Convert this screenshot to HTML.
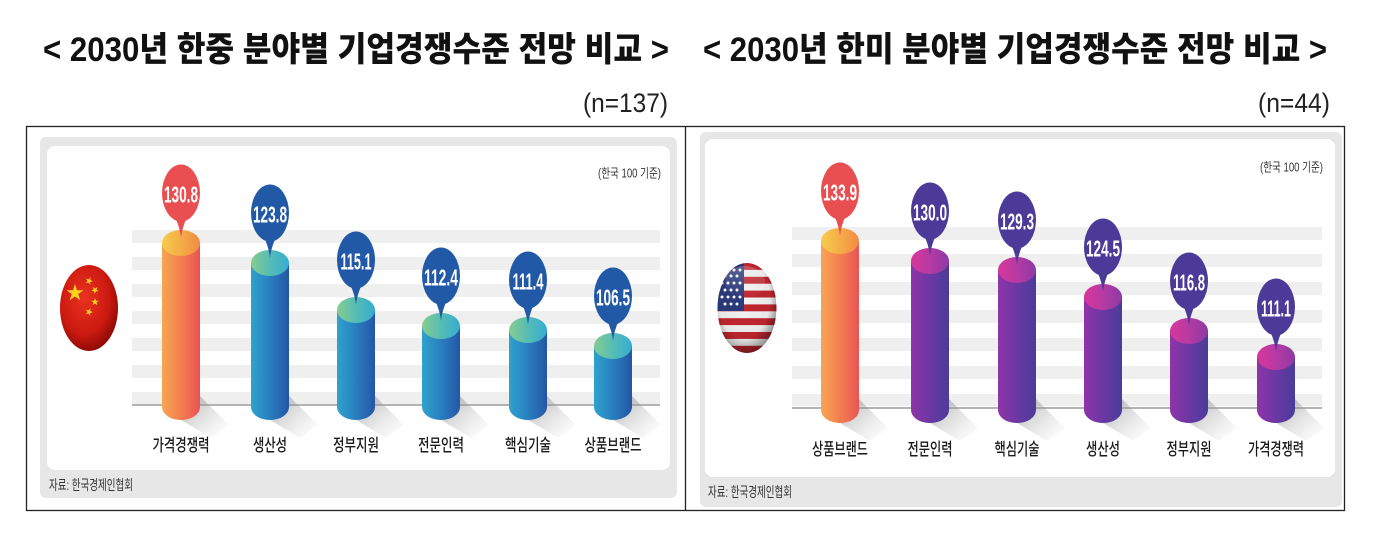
<!DOCTYPE html>
<html lang="ko">
<head>
<meta charset="utf-8">
<style>
  html,body{margin:0;padding:0;background:#fff;}
  body{width:1400px;height:540px;overflow:hidden;}
  svg{display:block;}
  .t{font-family:"Liberation Sans","Noto Sans CJK KR",sans-serif;}
</style>
</head>
<body>
<svg width="1400" height="540" viewBox="0 0 1400 540" xmlns="http://www.w3.org/2000/svg">
  <defs>
    <linearGradient id="gOB" x1="0" y1="0" x2="1" y2="0">
      <stop offset="0" stop-color="#f7a552"/><stop offset="0.55" stop-color="#f27b4f"/><stop offset="1" stop-color="#ea5355"/>
    </linearGradient>
    <linearGradient id="gOC" x1="0" y1="0" x2="1" y2="0">
      <stop offset="0" stop-color="#f6cd4c"/><stop offset="0.6" stop-color="#f4a646"/><stop offset="1" stop-color="#f08b45"/>
    </linearGradient>
    <linearGradient id="gBB" x1="0" y1="0" x2="1" y2="0">
      <stop offset="0" stop-color="#2ea3cc"/><stop offset="0.45" stop-color="#2a82c2"/><stop offset="1" stop-color="#2456a6"/>
    </linearGradient>
    <linearGradient id="gBC" x1="0" y1="0" x2="1" y2="0">
      <stop offset="0" stop-color="#88cc8f"/><stop offset="0.5" stop-color="#55bdb4"/><stop offset="1" stop-color="#36acd3"/>
    </linearGradient>
    <linearGradient id="gPB" x1="0" y1="0" x2="1" y2="0">
      <stop offset="0" stop-color="#8f34a8"/><stop offset="0.5" stop-color="#6a38a2"/><stop offset="1" stop-color="#4a3c9a"/>
    </linearGradient>
    <linearGradient id="gPC" x1="0" y1="0" x2="1" y2="0">
      <stop offset="0" stop-color="#d8379a"/><stop offset="0.5" stop-color="#b63aa3"/><stop offset="1" stop-color="#8d3aa5"/>
    </linearGradient>
    <linearGradient id="gSh" x1="0" y1="0" x2="1" y2="1">
      <stop offset="0" stop-color="#7a7a7a" stop-opacity="0.6"/><stop offset="1" stop-color="#cccccc" stop-opacity="0"/>
    </linearGradient>
    <radialGradient id="gCN" cx="0.42" cy="0.38" r="0.65">
      <stop offset="0" stop-color="#ea3220"/><stop offset="0.65" stop-color="#cc1a10"/><stop offset="1" stop-color="#8a0a05"/>
    </radialGradient>
    <radialGradient id="gShade" cx="0.45" cy="0.4" r="0.62">
      <stop offset="0" stop-color="#000" stop-opacity="0"/><stop offset="0.7" stop-color="#000" stop-opacity="0.05"/><stop offset="1" stop-color="#000" stop-opacity="0.45"/>
    </radialGradient>
    <linearGradient id="gGloss" x1="0" y1="0" x2="0" y2="1">
      <stop offset="0" stop-color="#fff" stop-opacity="0.55"/><stop offset="1" stop-color="#fff" stop-opacity="0"/>
    </linearGradient>
    <clipPath id="cUS"><ellipse cx="747" cy="308" rx="29.5" ry="45"/></clipPath>
    <path id="star" d="M0,-1 L0.225,-0.309 L0.951,-0.309 L0.363,0.118 L0.588,0.809 L0,0.382 L-0.588,0.809 L-0.363,0.118 L-0.951,-0.309 L-0.225,-0.309 Z"/>
  </defs>

  <!-- Titles -->
  <text class="t" x="43" y="61" font-size="34" font-weight="900" fill="#111" textLength="626" lengthAdjust="spacingAndGlyphs">&lt; 2030년 한중 분야별 기업경쟁수준 전망 비교 &gt;</text>
  <text class="t" x="703" y="61" font-size="34" font-weight="900" fill="#111" textLength="624" lengthAdjust="spacingAndGlyphs">&lt; 2030년 한미 분야별 기업경쟁수준 전망 비교 &gt;</text>
  <text class="t" x="583" y="112" font-size="27" fill="#222" textLength="85" lengthAdjust="spacingAndGlyphs">(n=137)</text>
  <text class="t" x="1258" y="112" font-size="27" fill="#222" textLength="72" lengthAdjust="spacingAndGlyphs">(n=44)</text>

  <!-- Outer box -->
  <rect x="26.5" y="126.5" width="1318" height="384" fill="#fff" stroke="#222" stroke-width="1.3"/>
  <line x1="685.5" y1="126.5" x2="685.5" y2="510.5" stroke="#222" stroke-width="1.3"/>

  <!-- Panels -->
  <rect x="40" y="137" width="637" height="361" rx="6" fill="#e7e7e7"/>
  <rect x="47" y="146" width="623" height="324" rx="8" fill="#fff"/>
  <rect x="700" y="132" width="642" height="375" rx="6" fill="#e7e7e7"/>
  <rect x="705" y="139" width="630" height="338" rx="8" fill="#fff"/>

  <!-- Left grid stripes -->
  <g fill="#efefef">
    <rect x="132" y="230" width="528" height="13"/>
    <rect x="132" y="257" width="528" height="13"/>
    <rect x="132" y="284" width="528" height="13"/>
    <rect x="132" y="311" width="528" height="13"/>
    <rect x="132" y="338" width="528" height="13"/>
    <rect x="132" y="365" width="528" height="13"/>
    <rect x="132" y="392" width="528" height="12"/>
  </g>
  <line x1="132" y1="405" x2="660" y2="405" stroke="#9a9a9a" stroke-width="1.6"/>

  <!-- Right grid stripes -->
  <g fill="#efefef">
    <rect x="792" y="227" width="530" height="13"/>
    <rect x="792" y="254" width="530" height="13"/>
    <rect x="792" y="282" width="530" height="13"/>
    <rect x="792" y="310" width="530" height="13"/>
    <rect x="792" y="338" width="530" height="13"/>
    <rect x="792" y="366" width="530" height="13"/>
    <rect x="792" y="394" width="530" height="12"/>
  </g>
  <line x1="792" y1="408" x2="1322" y2="408" stroke="#9a9a9a" stroke-width="1.6"/>

  <!-- Notes -->
  <text class="t" x="598" y="177.5" font-size="12.5" fill="#333" textLength="63" lengthAdjust="spacingAndGlyphs">(한국 100 기준)</text>
  <text class="t" x="1260" y="171.5" font-size="12.5" fill="#333" textLength="63" lengthAdjust="spacingAndGlyphs">(한국 100 기준)</text>
  <text class="t" x="49" y="490" font-size="14" fill="#333" textLength="84" lengthAdjust="spacingAndGlyphs">자료: 한국경제인협회</text>
  <text class="t" x="708" y="497" font-size="14" fill="#333" textLength="84" lengthAdjust="spacingAndGlyphs">자료: 한국경제인협회</text>

  <!-- China flag -->
  <ellipse cx="89" cy="308" rx="29" ry="43" fill="url(#gCN)"/>
  <g fill="#f7d21e">
    <use href="#star" transform="translate(75,293) scale(9)"/>
    <use href="#star" transform="translate(89,281) rotate(20) scale(4)"/>
    <use href="#star" transform="translate(95,290) rotate(40) scale(4)"/>
    <use href="#star" transform="translate(95,302) rotate(0) scale(4)"/>
    <use href="#star" transform="translate(89,312) rotate(20) scale(4)"/>
  </g>

  <!-- US flag -->
  <g clip-path="url(#cUS)">
    <rect x="715" y="262" width="66" height="94" fill="#f4f4f4"/>
    <g fill="#c3262f">
      <rect x="715" y="263" width="66" height="6.9"/>
      <rect x="715" y="276.8" width="66" height="6.9"/>
      <rect x="715" y="290.6" width="66" height="6.9"/>
      <rect x="715" y="304.4" width="66" height="6.9"/>
      <rect x="715" y="318.2" width="66" height="6.9"/>
      <rect x="715" y="332" width="66" height="6.9"/>
      <rect x="715" y="345.8" width="66" height="8"/>
    </g>
    <rect x="715" y="262" width="29" height="49" fill="#2b3a7c"/>
    <g fill="#fff">
      <circle cx="722" cy="270" r="1.5"/><circle cx="728" cy="270" r="1.5"/><circle cx="734" cy="270" r="1.5"/><circle cx="740" cy="270" r="1.5"/>
      <circle cx="725" cy="276" r="1.5"/><circle cx="731" cy="276" r="1.5"/><circle cx="737" cy="276" r="1.5"/>
      <circle cx="722" cy="283" r="1.5"/><circle cx="728" cy="283" r="1.5"/><circle cx="734" cy="283" r="1.5"/><circle cx="740" cy="283" r="1.5"/>
      <circle cx="725" cy="290" r="1.5"/><circle cx="731" cy="290" r="1.5"/><circle cx="737" cy="290" r="1.5"/>
      <circle cx="722" cy="297" r="1.5"/><circle cx="728" cy="297" r="1.5"/><circle cx="734" cy="297" r="1.5"/><circle cx="740" cy="297" r="1.5"/>
      <circle cx="725" cy="304" r="1.5"/><circle cx="731" cy="304" r="1.5"/><circle cx="737" cy="304" r="1.5"/>
    </g>
    <ellipse cx="747" cy="308" rx="29.5" ry="45" fill="url(#gShade)"/>
    <ellipse cx="745" cy="282" rx="20" ry="16" fill="url(#gGloss)" opacity="0.4"/>
  </g>

  <!-- Shadows -->
  <g fill="url(#gSh)">
    <polygon points="200,396 229,425 211,438 181,420"/>
    <polygon points="289,396 318,425 300,438 270,420"/>
    <polygon points="375,396 404,425 386,438 356,420"/>
    <polygon points="460,396 489,425 471,438 441,420"/>
    <polygon points="547,396 576,425 558,438 528,420"/>
    <polygon points="632,396 661,425 643,438 613,420"/>
    <polygon points="859,399 888,428 870,441 840,423"/>
    <polygon points="949,399 978,428 960,441 930,423"/>
    <polygon points="1036,399 1065,428 1047,441 1017,423"/>
    <polygon points="1122,399 1151,428 1133,441 1103,423"/>
    <polygon points="1208,399 1237,428 1219,441 1189,423"/>
    <polygon points="1295,399 1324,428 1306,441 1276,423"/>
  </g>

  <!-- Left bars -->
  <path d="M162,243 V407 A19 13 0 0 0 200,407 V243 Z" fill="url(#gOB)"/>
  <ellipse cx="181" cy="243" rx="19" ry="13" fill="url(#gOC)"/>
  <path d="M251,263 V407 A19 13 0 0 0 289,407 V263 Z" fill="url(#gBB)"/>
  <ellipse cx="270" cy="263" rx="19" ry="13" fill="url(#gBC)"/>
  <path d="M337,310 V407 A19 13 0 0 0 375,407 V310 Z" fill="url(#gBB)"/>
  <ellipse cx="356" cy="310" rx="19" ry="13" fill="url(#gBC)"/>
  <path d="M422,326 V407 A19 13 0 0 0 460,407 V326 Z" fill="url(#gBB)"/>
  <ellipse cx="441" cy="326" rx="19" ry="13" fill="url(#gBC)"/>
  <path d="M509,330 V407 A19 13 0 0 0 547,407 V330 Z" fill="url(#gBB)"/>
  <ellipse cx="528" cy="330" rx="19" ry="13" fill="url(#gBC)"/>
  <path d="M594,346 V407 A19 13 0 0 0 632,407 V346 Z" fill="url(#gBB)"/>
  <ellipse cx="613" cy="346" rx="19" ry="13" fill="url(#gBC)"/>

  <!-- Left bubbles -->
  <g fill="#e94f50">
    <path d="M175,217 Q180,228 181,238 Q182,228 187,217 Z"/>
    <ellipse cx="181" cy="193" rx="19" ry="28.5"/>
  </g>
  <g fill="#2259a7">
    <path d="M264,237 Q269,248 270,258 Q271,248 276,237 Z"/>
    <ellipse cx="270" cy="213" rx="19" ry="28.5"/>
    <path d="M350,284 Q355,295 356,305 Q357,295 362,284 Z"/>
    <ellipse cx="356" cy="260" rx="19" ry="28.5"/>
    <path d="M435,300 Q440,311 441,321 Q442,311 447,300 Z"/>
    <ellipse cx="441" cy="276" rx="19" ry="28.5"/>
    <path d="M522,304 Q527,315 528,325 Q529,315 534,304 Z"/>
    <ellipse cx="528" cy="280" rx="19" ry="28.5"/>
    <path d="M607,320 Q612,331 613,341 Q614,331 619,320 Z"/>
    <ellipse cx="613" cy="296" rx="19" ry="28.5"/>
  </g>
  <g class="t" font-size="23" font-weight="bold" fill="#fff" text-anchor="middle">
    <text x="181" y="202.5" textLength="34" lengthAdjust="spacingAndGlyphs">130.8</text>
    <text x="270" y="222.5" textLength="34" lengthAdjust="spacingAndGlyphs">123.8</text>
    <text x="356" y="269.5" textLength="31" lengthAdjust="spacingAndGlyphs">115.1</text>
    <text x="441" y="285.5" textLength="34" lengthAdjust="spacingAndGlyphs">112.4</text>
    <text x="528" y="289.5" textLength="31" lengthAdjust="spacingAndGlyphs">111.4</text>
    <text x="613" y="305.5" textLength="34" lengthAdjust="spacingAndGlyphs">106.5</text>
  </g>

  <!-- Right bars -->
  <path d="M821,241 V410 A19 13 0 0 0 859,410 V241 Z" fill="url(#gOB)"/>
  <ellipse cx="840" cy="241" rx="19" ry="13" fill="url(#gOC)"/>
  <path d="M911,261 V410 A19 13 0 0 0 949,410 V261 Z" fill="url(#gPB)"/>
  <ellipse cx="930" cy="261" rx="19" ry="13" fill="url(#gPC)"/>
  <path d="M998,270 V410 A19 13 0 0 0 1036,410 V270 Z" fill="url(#gPB)"/>
  <ellipse cx="1017" cy="270" rx="19" ry="13" fill="url(#gPC)"/>
  <path d="M1084,297 V410 A19 13 0 0 0 1122,410 V297 Z" fill="url(#gPB)"/>
  <ellipse cx="1103" cy="297" rx="19" ry="13" fill="url(#gPC)"/>
  <path d="M1170,331 V410 A19 13 0 0 0 1208,410 V331 Z" fill="url(#gPB)"/>
  <ellipse cx="1189" cy="331" rx="19" ry="13" fill="url(#gPC)"/>
  <path d="M1257,357 V410 A19 13 0 0 0 1295,410 V357 Z" fill="url(#gPB)"/>
  <ellipse cx="1276" cy="357" rx="19" ry="13" fill="url(#gPC)"/>

  <!-- Right bubbles -->
  <g fill="#e94f50">
    <path d="M834,215 Q839,226 840,236 Q841,226 846,215 Z"/>
    <ellipse cx="840" cy="191" rx="19" ry="28.5"/>
  </g>
  <g fill="#4b3a98">
    <path d="M924,235 Q929,246 930,256 Q931,246 936,235 Z"/>
    <ellipse cx="930" cy="211" rx="19" ry="28.5"/>
    <path d="M1011,244 Q1016,255 1017,265 Q1018,255 1023,244 Z"/>
    <ellipse cx="1017" cy="220" rx="19" ry="28.5"/>
    <path d="M1097,271 Q1102,282 1103,292 Q1104,282 1109,271 Z"/>
    <ellipse cx="1103" cy="247" rx="19" ry="28.5"/>
    <path d="M1183,305 Q1188,316 1189,326 Q1190,316 1195,305 Z"/>
    <ellipse cx="1189" cy="281" rx="19" ry="28.5"/>
    <path d="M1270,331 Q1275,342 1276,352 Q1277,342 1282,331 Z"/>
    <ellipse cx="1276" cy="307" rx="19" ry="28.5"/>
  </g>
  <g class="t" font-size="23" font-weight="bold" fill="#fff" text-anchor="middle">
    <text x="840" y="200.5" textLength="34" lengthAdjust="spacingAndGlyphs">133.9</text>
    <text x="930" y="220.5" textLength="34" lengthAdjust="spacingAndGlyphs">130.0</text>
    <text x="1017" y="229.5" textLength="34" lengthAdjust="spacingAndGlyphs">129.3</text>
    <text x="1103" y="256.5" textLength="34" lengthAdjust="spacingAndGlyphs">124.5</text>
    <text x="1189" y="290.5" textLength="32" lengthAdjust="spacingAndGlyphs">116.8</text>
    <text x="1276" y="316.5" textLength="30" lengthAdjust="spacingAndGlyphs">111.1</text>
  </g>

  <!-- Left labels -->
  <g class="t" font-size="17" font-weight="500" fill="#1a1a1a" text-anchor="middle">
    <text x="181" y="451" textLength="57" lengthAdjust="spacingAndGlyphs">가격경쟁력</text>
    <text x="270" y="451" textLength="34" lengthAdjust="spacingAndGlyphs">생산성</text>
    <text x="356" y="451" textLength="46" lengthAdjust="spacingAndGlyphs">정부지원</text>
    <text x="441" y="451" textLength="46" lengthAdjust="spacingAndGlyphs">전문인력</text>
    <text x="528" y="451" textLength="46" lengthAdjust="spacingAndGlyphs">핵심기술</text>
    <text x="613" y="451" textLength="57" lengthAdjust="spacingAndGlyphs">상품브랜드</text>
  </g>
  <!-- Right labels -->
  <g class="t" font-size="17" font-weight="500" fill="#1a1a1a" text-anchor="middle">
    <text x="840" y="455" textLength="56" lengthAdjust="spacingAndGlyphs">상품브랜드</text>
    <text x="930" y="455" textLength="45" lengthAdjust="spacingAndGlyphs">전문인력</text>
    <text x="1017" y="455" textLength="45" lengthAdjust="spacingAndGlyphs">핵심기술</text>
    <text x="1103" y="455" textLength="34" lengthAdjust="spacingAndGlyphs">생산성</text>
    <text x="1189" y="455" textLength="45" lengthAdjust="spacingAndGlyphs">정부지원</text>
    <text x="1276" y="455" textLength="56" lengthAdjust="spacingAndGlyphs">가격경쟁력</text>
  </g>
</svg>
</body>
</html>
